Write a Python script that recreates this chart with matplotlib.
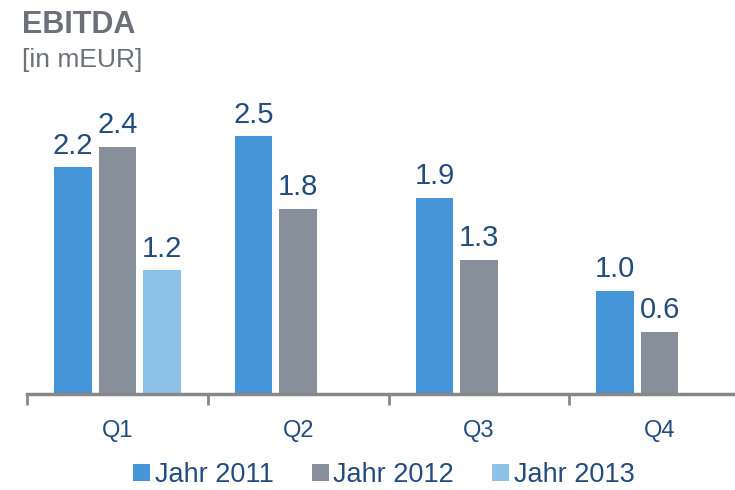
import matplotlib.pyplot as plt
import numpy as np

plt.rcParams["font.family"] = ["Liberation Sans", "DejaVu Sans"]

quartale = ["Q1", "Q2", "Q3", "Q4"]
jahr_2011 = [2.2, 2.5, 1.9, 1.0]
jahr_2012 = [2.4, 1.8, 1.3, 0.6]
jahr_2013 = [1.2, None, None, None]
serien = ["Jahr 2011", "Jahr 2012", "Jahr 2013"]
farben = ["#4496D8", "#87909A", "#8EC1E8"]

text_col = "#234C7E"

fig = plt.figure(figsize=(7.35, 4.9), dpi=100)
ax = fig.add_axes([27 / 735, 96 / 490, 723 / 735, 309 / 490])

x = np.arange(len(quartale))
breite = 0.207
abstand = 0.246

for i, (werte, name, farbe) in enumerate(zip([jahr_2011, jahr_2012, jahr_2013], serien, farben)):
    xs = [xi + (i - 1) * abstand for xi, w in zip(x, werte) if w is not None]
    ws = [w for w in werte if w is not None]
    bars = ax.bar(xs, ws, width=breite, color=farbe, label=name)
    for b, w in zip(bars, ws):
        ax.annotate(f"{w:.1f}", (b.get_x() + b.get_width() / 2, w),
                    xytext=(0, 10), textcoords="offset points",
                    ha="center", va="baseline", fontsize=21, color=text_col)

ax.set_xlim(-0.5, 3.5)
ax.set_ylim(0, 3.0)

# Kategorienachse: Striche an den Grenzen, Beschriftung in der Mitte
ax.set_xticks(x)
ax.set_xticklabels(quartale, fontsize=17, color=text_col)
ax.tick_params(axis="x", which="major", length=0, pad=19)
ax.set_xticks(np.arange(-0.5, 4, 1), minor=True)
ax.tick_params(axis="x", which="minor", length=8, width=2, color="#888888", direction="out")
ax.set_yticks([])

for s in ["top", "right", "left"]:
    ax.spines[s].set_visible(False)
ax.spines["bottom"].set_color("#888888")
ax.spines["bottom"].set_linewidth(2.5)

fig.text(22 / 735, 1 - 33 / 490, "EBITDA", fontsize=22, fontweight="bold", color="#6B7079")
fig.text(22 / 735, 1 - 67 / 490, "[in mEUR]", fontsize=19, color="#6B7079")

fig.legend(loc="center", bbox_to_anchor=(384 / 735, 15 / 490), ncol=3, frameon=False,
           fontsize=19.5, handlelength=0.62, handleheight=0.62, handletextpad=0.18,
           columnspacing=1.4, labelcolor=text_col, borderpad=0.2)

fig.savefig("out.png", dpi=100)
